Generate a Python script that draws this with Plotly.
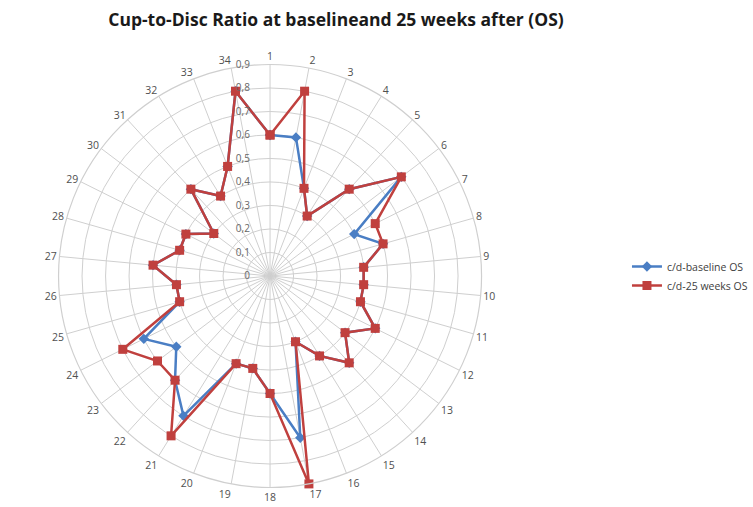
import plotly.graph_objects as go

# Optic nerve head sectors 1..34 (OS)
sectors = [str(i) for i in range(1, 35)]

# Cup-to-disc ratio per sector
cd_baseline = [0.6, 0.6, 0.4, 0.3, 0.5, 0.7, 0.4, 0.5, 0.4, 0.4,
               0.4, 0.5, 0.4, 0.5, 0.4, 0.3, 0.7, 0.5, 0.4, 0.4,
               0.7, 0.6, 0.5, 0.6, 0.4, 0.4, 0.5, 0.4, 0.4, 0.3,
               0.5, 0.4, 0.5, 0.8]
cd_25_weeks = [0.6, 0.8, 0.4, 0.3, 0.5, 0.7, 0.5, 0.5, 0.4, 0.4,
               0.4, 0.5, 0.4, 0.5, 0.4, 0.3, 0.9, 0.5, 0.4, 0.4,
               0.8, 0.6, 0.6, 0.7, 0.4, 0.4, 0.5, 0.4, 0.4, 0.3,
               0.5, 0.4, 0.5, 0.8]

radial_ticks = [0, 0.1, 0.2, 0.3, 0.4, 0.5, 0.6, 0.7, 0.8, 0.9]
radial_text = ["0", "0,1", "0,2", "0,3", "0,4", "0,5", "0,6", "0,7", "0,8", "0,9"]

BLUE = "#4A7EC4"
RED = "#C0403E"
GRID = "#CFCFCF"
PAD = "\u00a0" * 7  # keeps the radial labels to the left of the axis


def closed(values):
    return values + values[:1]


fig = go.Figure()
fig.add_trace(go.Scatterpolar(
    r=closed(cd_baseline), theta=closed(sectors),
    mode="lines+markers", name="c/d-baseline OS",
    line=dict(color=BLUE, width=2.5),
    marker=dict(symbol="diamond", size=8, color=BLUE),
))
fig.add_trace(go.Scatterpolar(
    r=closed(cd_25_weeks), theta=closed(sectors),
    mode="lines+markers", name="c/d-25 weeks OS",
    line=dict(color=RED, width=2.5),
    marker=dict(symbol="square", size=9, color=RED),
))

W, H = 753, 507
cx, cy, R = 286, 276, 224  # domain centre (px from left/top) and radius

fig.update_layout(
    width=W, height=H,
    margin=dict(l=0, r=0, t=0, b=0),
    paper_bgcolor="white",
    plot_bgcolor="white",
    font=dict(family="Open Sans, DejaVu Sans, sans-serif", color="#595959"),
    title=dict(
        text="<b>Cup-to-Disc Ratio at baselineand 25 weeks after (OS)</b>",
        x=336 / W, xanchor="center", y=1 - 20 / H, yanchor="middle",
        font=dict(size=17.5, color="#1a1a1a", family="Open Sans, sans-serif"),
    ),
    polar=dict(
        domain=dict(x=[(cx - R) / W, (cx + R) / W],
                    y=[(H - cy - R) / H, (H - cy + R) / H]),
        bgcolor="white",
        angularaxis=dict(
            type="category", categoryarray=sectors,
            direction="clockwise", rotation=90,
            showline=True, linecolor=GRID, linewidth=1.2,
            gridcolor=GRID, gridwidth=1.1,
            ticks="", tickfont=dict(size=10.5, color="#505050"),
        ),
        radialaxis=dict(
            range=[0, 0.9], angle=90, tickangle=90,
            tickvals=radial_ticks, ticktext=[t + PAD for t in radial_text],
            side="counterclockwise",
            showline=False, ticks="",
            gridcolor=GRID, gridwidth=1.1,
            tickfont=dict(size=10, color="#666666"),
        ),
    ),
    legend=dict(
        x=664 / W, y=1 - 252 / H, xanchor="left", yanchor="top",
        font=dict(size=10.5, color="#404040"),
        bgcolor="rgba(0,0,0,0)", tracegroupgap=0,
        itemwidth=30,
    ),
)

fig.write_html("out.html")
